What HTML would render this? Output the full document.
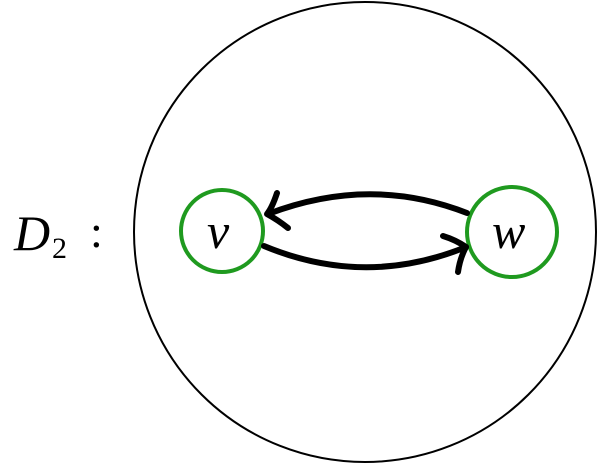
<!DOCTYPE html>
<html><head><style>body{margin:0;background:#fff}</style></head><body>
<svg width="600" height="464" xmlns="http://www.w3.org/2000/svg">
<ellipse cx="365" cy="232" rx="231" ry="230" fill="none" stroke="#000" stroke-width="2"/>
<circle cx="222" cy="231" r="41" fill="none" stroke="#1f9a1f" stroke-width="4"/>
<circle cx="512" cy="232" r="45" fill="none" stroke="#1f9a1f" stroke-width="4"/>
<g fill="none" stroke="#000" stroke-width="6" stroke-linecap="round" stroke-linejoin="round">
<path d="M467 213 Q370 175 268 214"/>
<path d="M277 193 Q272 208 267 214 Q278 220 288 228"/>
<path d="M264 246 Q365 288 466 247"/>
<path d="M443 236 Q456 240 466 247 Q460 258 458 272"/>
</g>
<text x="207" y="248" font-family="Liberation Serif, serif" font-style="italic" font-size="50">v</text>
<text x="492" y="248" font-family="Liberation Serif, serif" font-style="italic" font-size="50">w</text>
<text x="14" y="250" font-family="Liberation Serif, serif" font-style="italic" font-size="50">D</text>
<text x="52" y="258" font-family="Liberation Serif, serif" font-size="30">2</text>
<text x="90" y="247" font-family="Liberation Serif, serif" font-size="46">:</text>
</svg>
</body></html>
